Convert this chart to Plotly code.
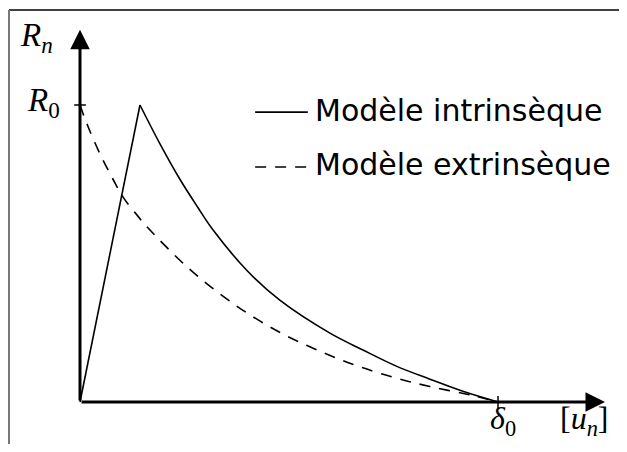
import plotly.graph_objects as go

# x in units of delta0, y in units of R0
R0 = 1.0
delta0 = 1.0

# intrinsic model (solid): linear rise to the peak, then decay to delta0
intr_x = [0.0, 0.1435, 0.191, 0.239, 0.282, 0.318, 0.400, 0.478,
          0.598, 0.677, 0.758, 0.837, 0.916, 1.0]
intr_y = [0.0, 1.0, 0.87, 0.75, 0.655, 0.58, 0.442, 0.343,
          0.232, 0.175, 0.12, 0.077, 0.036, 0.0]

# extrinsic model (dashed): decays from R0 at zero opening
extr_x = [0.0, 0.017, 0.048, 0.079, 0.103, 0.139, 0.160, 0.256, 0.335,
          0.407, 0.495, 0.610, 0.677, 0.758, 0.837, 0.933, 1.0]
extr_y = [1.0, 0.935, 0.835, 0.75, 0.69, 0.625, 0.59, 0.455, 0.364,
          0.293, 0.222, 0.150, 0.115, 0.080, 0.052, 0.024, 0.0]

legend_labels = ["Modèle intrinsèque", "Modèle extrinsèque"]

math_font = dict(family="Liberation Serif", size=33, color="black")
low_font = dict(family="Liberation Serif", size=32, color="black")
text_font = dict(family="DejaVu Sans", size=30, color="black")

fig = go.Figure()

# rising part of the intrinsic curve is straight, decay part smooth
fig.add_trace(go.Scatter(x=intr_x[:2], y=intr_y[:2], mode="lines",
                         line=dict(color="black", width=1.6)))
fig.add_trace(go.Scatter(x=intr_x[1:], y=intr_y[1:], mode="lines",
                         line=dict(color="black", width=1.6, shape="spline", smoothing=1.0)))
fig.add_trace(go.Scatter(x=extr_x, y=extr_y, mode="lines",
                         line=dict(color="black", width=1.6, dash="11px,9px",
                                   shape="spline", smoothing=1.0)))

# axes with arrows
arrow = dict(showarrow=True, arrowhead=2, arrowsize=1.3, arrowwidth=3,
             arrowcolor="black", axref="x", ayref="y", text="")
fig.add_annotation(x=1.256, y=0, ax=0, ay=0, **arrow)
fig.add_annotation(x=0, y=1.253, ax=0, ay=0, **arrow)

# tick marks at R0 and delta0
fig.add_shape(type="line", x0=-0.014, x1=0.014, y0=R0, y1=R0,
              line=dict(color="black", width=1.5))
fig.add_shape(type="line", x0=delta0, x1=delta0, y0=-0.02, y1=0.02,
              line=dict(color="black", width=1.5))

# axis labels
fig.add_annotation(x=-0.103, y=1.226, text="<i>R</i><sub><i>n</i></sub>",
                   showarrow=False, font=math_font)
fig.add_annotation(x=-0.0885, y=1.007, text="<i>R</i><sub>0</sub>",
                   showarrow=False, font=math_font)
fig.add_annotation(x=1.012, y=-0.138, yanchor="bottom", text="<i>δ</i><sub>0</sub>",
                   showarrow=False, font=low_font)
fig.add_annotation(x=1.206, y=-0.138, yanchor="bottom", text="[<i>u</i><sub><i>n</i></sub>]",
                   showarrow=False, font=low_font)

# hand-made legend
fig.add_shape(type="line", x0=0.419, x1=0.545, y0=0.976, y1=0.976,
              line=dict(color="black", width=1.6))
fig.add_shape(type="line", x0=0.419, x1=0.545, y0=0.791, y1=0.791,
              line=dict(color="black", width=1.6, dash="11px,9px"))
fig.add_annotation(x=0.557, y=0.983, text=legend_labels[0], xanchor="left",
                   showarrow=False, font=text_font)
fig.add_annotation(x=0.557, y=0.801, text=legend_labels[1], xanchor="left",
                   showarrow=False, font=text_font)

# frame (top and left edges)
W, H = 611, 436
fig.add_shape(type="line", xref="paper", yref="paper", x0=1/W, x1=1,
              y0=1-2/H, y1=1-2/H, line=dict(color="black", width=1.5))
fig.add_shape(type="line", xref="paper", yref="paper", x0=1/W, x1=1/W,
              y0=0, y1=1-2/H, line=dict(color="#777777", width=2))

# page body has an 8px margin, so the origin sits at (72, 394) in the figure
fig.update_xaxes(visible=False, range=[-72/418, (W-72)/418])
fig.update_yaxes(visible=False, range=[(394-H)/297, 394/297])
fig.update_layout(width=W, height=H, margin=dict(l=0, r=0, t=0, b=0),
                  showlegend=False, plot_bgcolor="white", paper_bgcolor="white")

fig.write_html("out.html")
